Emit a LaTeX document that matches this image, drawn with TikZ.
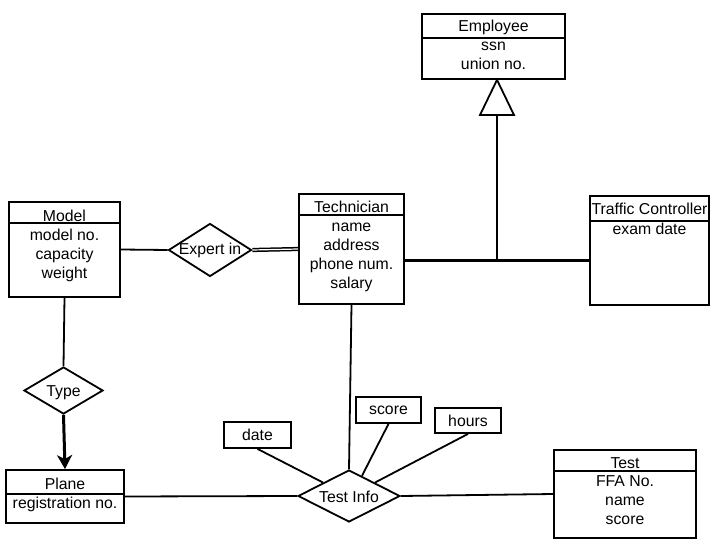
\documentclass[tikz,border=0pt]{standalone}
\usepackage{fontspec}
\setmainfont{Liberation Sans}
\usetikzlibrary{shapes.geometric,arrows.meta,calc}
\begin{document}
\begin{tikzpicture}[x=1pt,y=-1pt,
  ebox/.style={draw,line width=1.8pt,inner sep=0pt},
  rel/.style={draw,diamond,line width=1.8pt,inner sep=0pt},
  lbl/.style={inner sep=0pt,font=\fontsize{15.8}{19}\selectfont},
  conn/.style={line width=1.8pt},
  thick3/.style={line width=3pt}]
\useasboundingbox (0,0) rectangle (720,540);
% entity boxes
\node[ebox,minimum width=143pt,minimum height=65pt] (emp) at (493.5,46.5) {};
\node[ebox,minimum width=105pt,minimum height=110pt] (tech) at (351.5,249) {};
\node[ebox,minimum width=119pt,minimum height=109pt] (tc) at (649.5,250.5) {};
\node[ebox,minimum width=111pt,minimum height=95pt] (model) at (64.5,249.5) {};
\node[ebox,minimum width=118pt,minimum height=53pt] (plane) at (65,496.5) {};
\node[ebox,minimum width=142pt,minimum height=88pt] (test) at (625,494) {};
\node[ebox,minimum width=67pt,minimum height=26pt] (date) at (257.5,435) {};
\node[ebox,minimum width=65pt,minimum height=26pt] (score) at (388.5,410) {};
\node[ebox,minimum width=66pt,minimum height=25pt] (hours) at (468,420.5) {};
% dividers
\draw[conn] (emp.west |- 0,38) -- (emp.east |- 0,38);
\draw[conn] (tech.west |- 0,215) -- (tech.east |- 0,215);
\draw[conn] (tc.west |- 0,221) -- (tc.east |- 0,221);
\draw[conn] (model.west |- 0,223) -- (model.east |- 0,223);
\draw[conn] (plane.west |- 0,494) -- (plane.east |- 0,494);
\draw[conn] (test.west |- 0,471) -- (test.east |- 0,471);
% relationship diamonds
\node[rel,minimum width=83pt,minimum height=53pt] (expert) at (210,250) {};
\node[rel,minimum width=79pt,minimum height=47pt] (type) at (63.5,390.5) {};
\node[rel,minimum width=102pt,minimum height=52pt] (tinfo) at (349,496) {};
% texts
\node[lbl] (empT) at (493.5,27) {Employee};
\node[lbl] (empA) at (493.5,56) {\begin{tabular}{@{}c@{}}ssn\\union no.\end{tabular}};
\node[lbl] (techT) at (351.5,207) {Technician};
\node[lbl] (techA) at (351.5,256) {\begin{tabular}{@{}c@{}}name\\address\\phone num.\\salary\end{tabular}};
\node[lbl] (tcT) at (649.5,209) {Traffic Controller};
\node[lbl] (tcA) at (649.5,229) {exam date};
\node[lbl] (modelT) at (64.5,216) {Model};
\node[lbl] (modelA) at (64.5,256) {\begin{tabular}{@{}c@{}}model no.\\capacity\\weight\end{tabular}};
\node[lbl] (planeT) at (65,484) {Plane};
\node[lbl] (planeA) at (65,504) {registration no.};
\node[lbl] (testT) at (625,463) {Test};
\node[lbl] (testA) at (625,502) {\begin{tabular}{@{}c@{}}FFA No.\\name\\score\end{tabular}};
\node[lbl] at (date) {date};
\node[lbl] at (score) {score};
\node[lbl] at (hours) {hours};
\node[lbl] (expertT) at (210,250) {Expert in};
\node[lbl] (typeT) at (63.5,393) {Type};
\node[lbl] (tinfoT) at (349,497) {Test Info};
% ISA triangle
\coordinate (apex) at (emp.south -| 497,0);
\coordinate (tribase) at (497,115);
\coordinate (junc) at (497,260);
\draw[conn] (apex) -- (480,115) -- (514,115) -- cycle;
\draw[conn] (tribase) -- (junc);
\draw[thick3] (tech.east |- junc) -- (tc.west |- junc);
% connectors
\draw[conn] (model.east) -- (expert.west);
\draw[line width=1.5pt,double,double distance=1.2pt] (expert.east) -- (tech.west);
\draw[conn] (model.south) -- (type.north);
\draw[thick3,-{Stealth[length=14pt,width=15pt,inset=4pt]}] (type.south) -- (plane.north);
\draw[conn] (plane.east) -- (tinfo.west);
\draw[conn] (tech.south) -- (tinfo.north);
\draw[conn] (tinfo.east) -- (test.west);
\draw[conn] (date.south) -- (tinfo.north west);
\draw[conn] (score.south) -- ($(tinfo.north)!0.25!(tinfo.east)$);
\draw[conn] (hours.south) -- (tinfo.north east);
\end{tikzpicture}
\end{document}
